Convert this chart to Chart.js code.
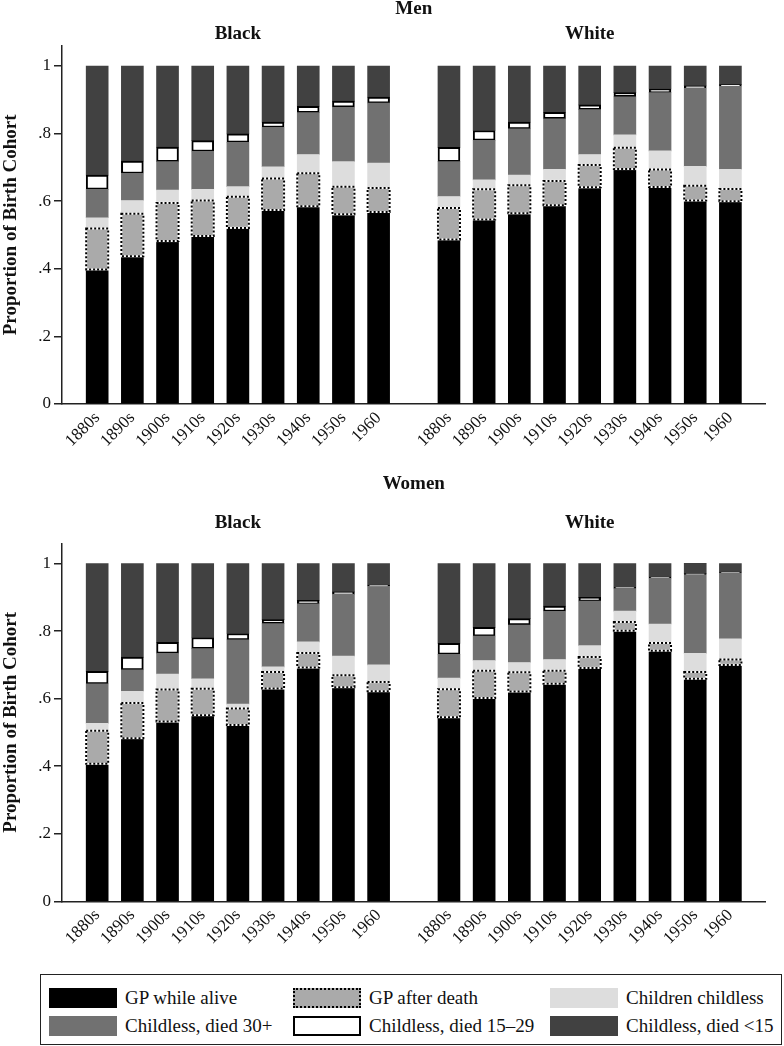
<!DOCTYPE html>
<html>
<head>
<meta charset="utf-8">
<script src="https://cdn.jsdelivr.net/npm/chart.js@4.4.1/dist/chart.umd.min.js"></script>
<style>
  body { margin: 0; background: #fff; font-family: 'Liberation Serif', serif; }
  canvas { position: absolute; left: 0; }
  #men { top: 0; }
  #women { top: 470px; }
  #legend {
    position: absolute; left: 40px; top: 974px; width: 742px; height: 71px;
    box-sizing: border-box; border: 1.5px solid #222;
    display: grid; grid-template-columns: 244px 257px 1fr; grid-auto-rows: 28px;
    padding: 9px 0 0 8px; color: #111; font-size: 19px;
  }
  .item { display: flex; align-items: center; }
  .swatch { width: 68px; height: 20px; box-sizing: border-box; margin-right: 8px; }
</style>
</head>
<body>
<canvas id="men" width="784" height="470"></canvas>
<canvas id="women" width="784" height="490"></canvas>
<div id="legend"></div>
<script>
const cohorts = ['1880s', '1890s', '1900s', '1910s', '1920s', '1930s', '1940s', '1950s', '1960'];
const groups = ['Black', 'White'];
const seriesNames = ['GP while alive', 'GP after death', 'Children childless',
  'Childless, died 30+', 'Childless, died 15–29', 'Childless, died <15'];
const yTicks = [0, 0.2, 0.4, 0.6, 0.8, 1];
const yTickLabels = ['0', '.2', '.4', '.6', '.8', '1'];

// Men, Black
const menBlackAlive   = [0.398, 0.437, 0.482, 0.497, 0.521, 0.574, 0.585, 0.561, 0.568];
const menBlackAfter   = [0.121, 0.126, 0.113, 0.105, 0.092, 0.093, 0.098, 0.082, 0.071];
const menBlackKids    = [0.032, 0.039, 0.038, 0.033, 0.030, 0.035, 0.055, 0.074, 0.074];
const menBlackDied30  = [0.084, 0.080, 0.084, 0.112, 0.131, 0.116, 0.124, 0.161, 0.177];
const menBlackDied15  = [0.042, 0.037, 0.043, 0.032, 0.025, 0.016, 0.019, 0.018, 0.018];
const menBlackUnder15 = [0.323, 0.281, 0.240, 0.221, 0.201, 0.166, 0.119, 0.104, 0.092];
// Men, White
const menWhiteAlive   = [0.487, 0.546, 0.564, 0.588, 0.641, 0.695, 0.642, 0.602, 0.600];
const menWhiteAfter   = [0.093, 0.089, 0.083, 0.072, 0.066, 0.063, 0.052, 0.044, 0.036];
const menWhiteKids    = [0.034, 0.028, 0.030, 0.034, 0.031, 0.038, 0.055, 0.057, 0.058];
const menWhiteDied30  = [0.103, 0.117, 0.137, 0.150, 0.133, 0.113, 0.172, 0.231, 0.246];
const menWhiteDied15  = [0.042, 0.029, 0.020, 0.019, 0.014, 0.012, 0.011, 0.007, 0.005];
const menWhiteUnder15 = [0.241, 0.191, 0.166, 0.137, 0.115, 0.079, 0.068, 0.059, 0.055];
// Women, Black
const womenBlackAlive   = [0.407, 0.483, 0.532, 0.551, 0.522, 0.630, 0.692, 0.634, 0.622];
const womenBlackAfter   = [0.098, 0.104, 0.095, 0.078, 0.049, 0.049, 0.043, 0.035, 0.027];
const womenBlackKids    = [0.022, 0.035, 0.046, 0.030, 0.013, 0.015, 0.033, 0.057, 0.051];
const womenBlackDied30  = [0.117, 0.063, 0.061, 0.089, 0.190, 0.128, 0.113, 0.183, 0.232];
const womenBlackDied15  = [0.037, 0.038, 0.033, 0.033, 0.019, 0.012, 0.010, 0.007, 0.004];
const womenBlackUnder15 = [0.319, 0.277, 0.233, 0.219, 0.207, 0.166, 0.109, 0.084, 0.064];
// Women, White
const womenWhiteAlive   = [0.545, 0.602, 0.621, 0.644, 0.691, 0.801, 0.742, 0.659, 0.700];
const womenWhiteAfter   = [0.083, 0.081, 0.057, 0.039, 0.032, 0.026, 0.023, 0.020, 0.016];
const womenWhiteKids    = [0.033, 0.030, 0.029, 0.033, 0.034, 0.032, 0.056, 0.055, 0.061];
const womenWhiteDied30  = [0.070, 0.072, 0.111, 0.142, 0.132, 0.067, 0.135, 0.233, 0.195];
const womenWhiteDied15  = [0.033, 0.026, 0.019, 0.016, 0.011, 0.004, 0.004, 0.003, 0.003];
const womenWhiteUnder15 = [0.236, 0.189, 0.163, 0.126, 0.100, 0.070, 0.040, 0.031, 0.025];

const FONT = "'Liberation Serif', serif";
const fills = ['#000000', '#aaaaaa', '#dddddd', '#717171', '#ffffff', '#414141'];
const legendBorders = ['none', '2px dotted #000', 'none', 'none', '2px solid #000', 'none'];

// spacer slots: one before, one between the two groups, one after
const labels = ['', ...cohorts, '', ...cohorts, ''];
const joinGroups = (b, w) => [null, ...b, null, ...w, null];

// dotted outline for "GP after death"
const dottedBars = {
  id: 'dottedBars',
  afterDatasetsDraw(chart) {
    const ctx = chart.ctx;
    const meta = chart.getDatasetMeta(1);
    const vals = chart.data.datasets[1].data;
    ctx.save();
    ctx.lineWidth = 2;
    meta.data.forEach((bar, i) => {
      if (vals[i] == null) return;
      const { x, y, base, width } = bar.getProps(['x', 'y', 'base', 'width'], true);
      const l = x - width / 2, t = Math.min(y, base), h = Math.abs(base - y);
      ctx.setLineDash([]);
      ctx.strokeStyle = '#ffffff';
      ctx.strokeRect(l, t, width, h);
      ctx.setLineDash([2, 2]);
      ctx.strokeStyle = '#000000';
      ctx.strokeRect(l, t, width, h);
    });
    ctx.restore();
  }
};

// "Black" / "White" above each group of bars
const groupLabels = {
  id: 'groupLabels',
  afterDraw(chart, args, opts) {
    const ctx = chart.ctx, xs = chart.scales.x;
    ctx.save();
    ctx.font = 'bold 19px ' + FONT;
    ctx.fillStyle = '#111';
    ctx.textAlign = 'center';
    ctx.textBaseline = 'middle';
    groups.forEach((g, k) => {
      const first = 1 + k * (cohorts.length + 1);
      const last = first + cohorts.length - 1;
      const cx = (xs.getPixelForTick(first) + xs.getPixelForTick(last)) / 2;
      ctx.fillText(g, cx, chart.chartArea.top - opts.gap);
    });
    ctx.restore();
  }
};

function makePanel(id, title, black, white, lay) {
  const datasets = seriesNames.map((name, i) => ({
    label: name,
    data: joinGroups(black[i], white[i]),
    backgroundColor: fills[i],
    borderColor: '#000',
    borderWidth: i === 4 ? 2 : 0,
    borderSkipped: false,
    barThickness: 22
  }));
  return new Chart(document.getElementById(id), {
    type: 'bar',
    data: { labels, datasets },
    plugins: [dottedBars, groupLabels],
    options: {
      responsive: false,
      animation: false,
      layout: { padding: { top: 0, left: 0, right: 13, bottom: 0 } },
      plugins: {
        legend: { display: false },
        tooltip: { enabled: false },
        title: {
          display: true, text: title, fullSize: false, color: '#111',
          font: { family: FONT, size: 19, weight: 'bold', lineHeight: 1 },
          padding: { top: lay.titleTop, bottom: lay.titleBottom }
        },
        groupLabels: { gap: lay.subGap }
      },
      scales: {
        x: {
          stacked: true,
          offset: false,
          afterFit: s => { s.height = lay.xHeight; },
          grid: { display: true, drawOnChartArea: false, drawTicks: false },
          border: { color: '#222', width: 1.5 },
          ticks: {
            autoSkip: false, maxRotation: 45, minRotation: 45, padding: 4,
            color: '#111', font: { family: FONT, size: 17 }
          }
        },
        y: {
          stacked: true,
          min: 0,
          max: 1.06,
          afterBuildTicks: s => { s.ticks = yTicks.map(v => ({ value: v })); },
          afterFit: s => { s.width = 62; },
          grid: { drawOnChartArea: false, tickLength: 8, color: '#222', lineWidth: 1.5 },
          border: { color: '#222', width: 1.5 },
          ticks: {
            padding: 3, color: '#111', font: { family: FONT, size: 17 },
            callback: (v, i) => yTickLabels[i]
          },
          title: {
            display: true, text: 'Proportion of Birth Cohort', color: '#111',
            font: { family: FONT, size: 19, weight: 'bold' }, padding: 0
          }
        }
      }
    }
  });
}

const menChart = makePanel('men', 'Men',
  [menBlackAlive, menBlackAfter, menBlackKids, menBlackDied30, menBlackDied15, menBlackUnder15],
  [menWhiteAlive, menWhiteAfter, menWhiteKids, menWhiteDied30, menWhiteDied15, menWhiteUnder15],
  { titleTop: 0, titleBottom: 26.7, subGap: 11.7, xHeight: 66 });

makePanel('women', 'Women',
  [womenBlackAlive, womenBlackAfter, womenBlackKids, womenBlackDied30, womenBlackDied15, womenBlackUnder15],
  [womenWhiteAlive, womenWhiteAfter, womenWhiteKids, womenWhiteDied30, womenWhiteDied15, womenWhiteUnder15],
  { titleTop: 4.5, titleBottom: 49.8, subGap: 20.3, xHeight: 58.7 });

// shared legend, built from the chart's own legend items
const legendEl = document.getElementById('legend');
Chart.defaults.plugins.legend.labels.generateLabels(menChart).forEach((item, i) => {
  const div = document.createElement('div');
  div.className = 'item';
  const sw = document.createElement('span');
  sw.className = 'swatch';
  sw.style.background = item.fillStyle;
  sw.style.border = legendBorders[i];
  div.appendChild(sw);
  div.appendChild(document.createTextNode(item.text));
  legendEl.appendChild(div);
});
</script>
</body>
</html>
